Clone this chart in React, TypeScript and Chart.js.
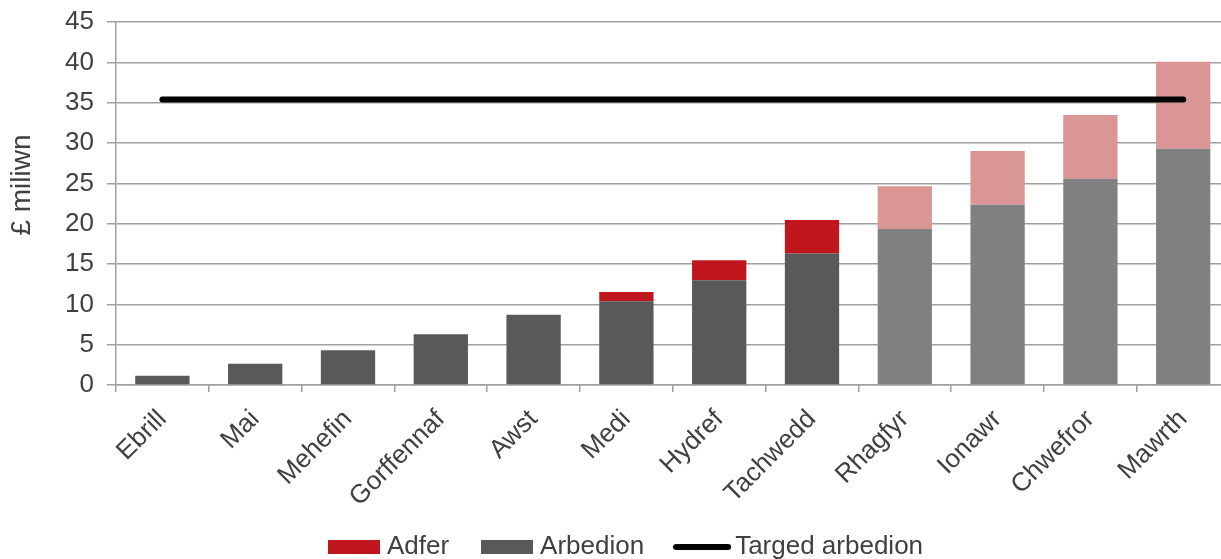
import React, { useEffect, useRef } from "react";
import { Chart, registerables } from "chart.js";

Chart.register(...registerables);

const months = ["Ebrill", "Mai", "Mehefin", "Gorffennaf", "Awst", "Medi", "Hydref", "Tachwedd", "Rhagfyr", "Ionawr", "Chwefror", "Mawrth"];
const arbedion = [1.15, 2.64, 4.3, 6.3, 8.7, 10.37, 13.0, 16.3, 19.33, 22.35, 25.57, 29.28];
const adfer = [0, 0, 0, 0, 0, 1.15, 2.45, 4.15, 5.3, 6.65, 7.9, 10.8];
const targed = [35.4, 35.4, 35.4, 35.4, 35.4, 35.4, 35.4, 35.4, 35.4, 35.4, 35.4, 35.4];
const forecast = [false, false, false, false, false, false, false, false, true, true, true, true];

const seriesLabels = ["Adfer", "Arbedion", "Targed arbedion"];
const yTitle = "£ miliwn";

const ARB_DARK = "#595959";
const ARB_LIGHT = "#808080";
const ADF_DARK = "#C0161E";
const ADF_LIGHT = "#D99694";
const TEXT = "#404040";
const GRID = "#a0a0a0";
const FONT = "'Liberation Sans', Arial, sans-serif";

function swatchRect(color: string, w: number, h: number) {
  const c = document.createElement("canvas");
  c.width = w;
  c.height = h;
  const g = c.getContext("2d")!;
  g.fillStyle = color;
  g.fillRect(0, 0, w, h);
  return c;
}

function swatchLine(color: string, w: number, lw: number) {
  const c = document.createElement("canvas");
  c.width = w;
  c.height = lw + 2;
  const g = c.getContext("2d")!;
  g.strokeStyle = color;
  g.lineWidth = lw;
  g.lineCap = "round";
  g.beginPath();
  g.moveTo(lw / 2, c.height / 2);
  g.lineTo(w - lw / 2, c.height / 2);
  g.stroke();
  return c;
}

export default function App() {
  const ref = useRef<HTMLCanvasElement | null>(null);

  useEffect(() => {
    if (!ref.current) return;
    const redSw = swatchRect(ADF_DARK, 52, 14);
    const greySw = swatchRect(ARB_DARK, 52, 14);
    const lineSw = swatchLine("#000000", 58, 6);

    const yTitlePlugin = {
      id: "yTitlePlugin",
      afterDraw(chart: any) {
        const ctx = chart.ctx;
        ctx.save();
        ctx.translate(22, 185);
        ctx.rotate(-Math.PI / 2);
        ctx.font = "28px " + FONT;
        ctx.fillStyle = TEXT;
        ctx.textAlign = "center";
        ctx.textBaseline = "middle";
        ctx.fillText(yTitle, 0, 0);
        ctx.restore();
      },
    };

    const chart = new Chart(ref.current, {
      type: "bar",
      data: {
        labels: months,
        datasets: [
          {
            type: "bar",
            label: seriesLabels[1],
            data: arbedion,
            backgroundColor: forecast.map((f) => (f ? ARB_LIGHT : ARB_DARK)),
            borderWidth: 0,
            stack: "bars",
            order: 1,
            categoryPercentage: 1,
            barPercentage: 0.585,
          } as any,
          {
            type: "bar",
            label: seriesLabels[0],
            data: adfer,
            backgroundColor: forecast.map((f) => (f ? ADF_LIGHT : ADF_DARK)),
            borderWidth: 0,
            stack: "bars",
            order: 1,
            categoryPercentage: 1,
            barPercentage: 0.585,
          } as any,
          {
            type: "line",
            label: seriesLabels[2],
            data: targed,
            borderColor: "#000000",
            backgroundColor: "#000000",
            borderWidth: 6,
            borderCapStyle: "round",
            pointRadius: 0,
            stack: "target",
            order: 0,
          } as any,
        ],
      },
      options: {
        responsive: false,
        animation: false,
        layout: { padding: { left: 27.4, right: 2.4, top: 22, bottom: -11 } },
        font: { family: FONT },
        plugins: {
          tooltip: { enabled: false },
          legend: {
            position: "bottom",
            labels: {
              usePointStyle: true,
              pointStyleWidth: 40,
              padding: 38,
              color: TEXT,
              font: { size: 26, family: FONT },
              generateLabels: () => [
                { text: seriesLabels[0], pointStyle: redSw, fillStyle: ADF_DARK, strokeStyle: ADF_DARK, lineWidth: 0, datasetIndex: 1, hidden: false, fontColor: TEXT },
                { text: seriesLabels[1], pointStyle: greySw, fillStyle: ARB_DARK, strokeStyle: ARB_DARK, lineWidth: 0, datasetIndex: 0, hidden: false, fontColor: TEXT },
                { text: seriesLabels[2], pointStyle: lineSw, fillStyle: "#000", strokeStyle: "#000", lineWidth: 0, datasetIndex: 2, hidden: false, fontColor: TEXT },
              ] as any,
            },
          },
        },
        scales: {
          x: {
            stacked: true,
            offset: true,
            grid: {
              offset: true,
              drawOnChartArea: false,
              drawTicks: true,
              tickLength: 7,
              color: GRID,
              lineWidth: 1.5,
            },
            border: { color: GRID, width: 1.5 },
            ticks: {
              minRotation: 45,
              maxRotation: 45,
              padding: 12,
              color: TEXT,
              font: { size: 26, family: FONT },
            },
            afterFit: (scale: any) => {
              scale.height = 111;
              scale._computeLabelArea = () => undefined;
            },
          },
          y: {
            stacked: true,
            min: 0,
            max: 45,
            ticks: {
              stepSize: 5,
              padding: 13,
              color: TEXT,
              font: { size: 26, family: FONT },
            },
            grid: { color: GRID, lineWidth: 1.5, tickLength: 9 },
            border: { color: GRID, width: 1.5 },
            afterFit: (scale: any) => {
              scale.width = 88.6;
              scale.paddingTop = 0;
              scale.paddingBottom = 0;
            },
          },
        },
      } as any,
      plugins: [yTitlePlugin],
    });
    return () => chart.destroy();
  }, []);

  return (
    <div style={{ position: "absolute", left: 0, top: 0, width: 1221, height: 559, overflow: "hidden", background: "#fff" }}>
      <canvas ref={ref} width={1232} height={559} style={{ display: "block" }} />
    </div>
  );
}
